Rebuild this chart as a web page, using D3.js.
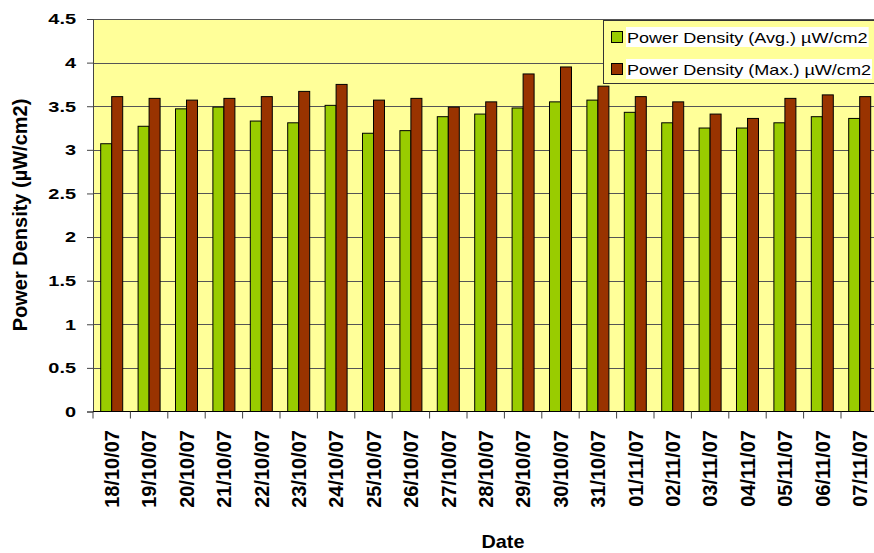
<!DOCTYPE html>
<html>
<head>
<meta charset="utf-8">
<script src="https://cdn.jsdelivr.net/npm/d3@7"></script>
<style>
  body { margin: 0; background: #fff; }
  svg { display: block; font-family: Arial, "Liberation Sans", sans-serif; }
</style>
</head>
<body>
<div id="chart"></div>
<script>
const dates = ["18/10/07", "19/10/07", "20/10/07", "21/10/07", "22/10/07", "23/10/07", "24/10/07",
  "25/10/07", "26/10/07", "27/10/07", "28/10/07", "29/10/07", "30/10/07", "31/10/07",
  "01/11/07", "02/11/07", "03/11/07", "04/11/07", "05/11/07", "06/11/07", "07/11/07"];
const avgValues = [3.07, 3.27, 3.47, 3.49, 3.33, 3.31, 3.51, 3.19, 3.22, 3.38, 3.41,
  3.48, 3.55, 3.57, 3.43, 3.31, 3.25, 3.25, 3.31, 3.38, 3.36];
const maxValues = [3.61, 3.59, 3.57, 3.59, 3.61, 3.67, 3.75, 3.57, 3.59, 3.49, 3.55,
  3.87, 3.95, 3.73, 3.61, 3.55, 3.41, 3.36, 3.59, 3.63, 3.61];
const seriesNames = ["Power Density (Avg.) µW/cm2", "Power Density (Max.) µW/cm2"];
const yTicks = [0, 0.5, 1, 1.5, 2, 2.5, 3, 3.5, 4, 4.5];

const width = 874, height = 553;
const plotLeft = 93, plotTop = 19, plotBottom = 411.5;
const step = 37.4;
const plotRight = plotLeft + step * dates.length;
const colors = ["#99CC00", "#993300"];

const svg = d3.select("#chart").append("svg")
  .attr("width", width).attr("height", height);

const x = d3.scaleBand().domain(dates).range([plotLeft, plotRight]).padding(0);
const x1 = d3.scaleBand().domain([0, 1]).range([0, x.bandwidth()]).paddingInner(0).paddingOuter(0.7);
const y = d3.scaleLinear().domain([0, 4.5]).range([plotBottom, plotTop]);

// plot area
svg.append("rect").attr("x", plotLeft).attr("y", plotTop)
  .attr("width", plotRight - plotLeft).attr("height", plotBottom - plotTop)
  .attr("fill", "#FFFF99");

// gridlines
svg.append("g").selectAll("line").data(yTicks.filter(d => d > 0)).join("line")
  .attr("x1", plotLeft).attr("x2", plotRight)
  .attr("y1", d => Math.round(y(d)) + 0.5).attr("y2", d => Math.round(y(d)) + 0.5)
  .attr("stroke", "#555").attr("stroke-width", 1);

// bars
const rows = dates.map((d, i) => ({date: d, vals: [avgValues[i], maxValues[i]]}));
const groups = svg.append("g").selectAll("g").data(rows).join("g")
  .attr("transform", d => `translate(${x(d.date)},0)`);
groups.selectAll("rect").data(d => d.vals.map((v, k) => ({k, v}))).join("rect")
  .attr("x", d => x1(d.k))
  .attr("y", d => y(d.v))
  .attr("width", x1.bandwidth())
  .attr("height", d => plotBottom - y(d.v))
  .attr("fill", d => colors[d.k])
  .attr("stroke", "#000").attr("stroke-width", 1);

// y axis
const yAxis = svg.append("g").attr("transform", `translate(${plotLeft},0)`)
  .call(d3.axisLeft(y).tickValues(yTicks).tickSize(6).tickFormat(d3.format("")));
yAxis.select(".domain").attr("stroke", "#444");
yAxis.selectAll(".tick line").attr("stroke", "#444");
yAxis.selectAll("text")
  .attr("x", -17 / 1.33)
  .attr("transform", "scale(1.33,1)")
  .attr("font-size", 15).attr("font-weight", "bold").attr("fill", "#000")
  .attr("font-family", "Arial, 'Liberation Sans', sans-serif");

// x axis
svg.append("line").attr("x1", plotLeft).attr("x2", width).attr("y1", plotBottom).attr("y2", plotBottom)
  .attr("stroke", "#000");
svg.append("g").selectAll("line").data(d3.range(dates.length + 1)).join("line")
  .attr("x1", i => plotLeft + i * x.step()).attr("x2", i => plotLeft + i * x.step())
  .attr("y1", plotBottom).attr("y2", plotBottom + 7)
  .attr("stroke", "#444");
svg.append("g").selectAll("text").data(dates).join("text")
  .attr("transform", d => `translate(${x(d) + x.bandwidth() / 2},430) rotate(-90)`)
  .attr("text-anchor", "end").attr("dy", "0.36em")
  .attr("font-size", 20).attr("font-weight", "bold")
  .text(d => d);

// axis titles
svg.append("text")
  .attr("transform", "translate(503,548) scale(1.1,1)")
  .attr("text-anchor", "middle")
  .attr("font-size", 18).attr("font-weight", "bold")
  .text("Date");
svg.append("text")
  .attr("transform", "translate(20,215) rotate(-90)")
  .attr("text-anchor", "middle").attr("dy", "0.36em")
  .attr("font-size", 20).attr("font-weight", "bold")
  .text("Power Density (µW/cm2)");

// legend
const legend = svg.append("g");
legend.append("rect").attr("x", 603.5).attr("y", 20.5)
  .attr("width", 300).attr("height", 63)
  .attr("fill", "#FFFF99").attr("stroke", "#333");
const items = legend.selectAll("g").data(seriesNames).join("g")
  .attr("transform", (d, i) => `translate(0,${i * 32})`);
items.append("rect").attr("class", "bg");
items.append("text")
  .attr("transform", "translate(627,42.5) scale(1.29,1)")
  .attr("font-size", 14)
  .text(d => d);
items.each(function() {
  const g = d3.select(this);
  const t = g.select("text").node().getBBox();
  g.select("rect.bg").attr("x", 626).attr("y", 27)
    .attr("width", t.width * 1.29 + 2).attr("height", 20).attr("fill", "#fff");
});
items.append("rect")
  .attr("x", 611.5).attr("y", 31.5).attr("width", 11).attr("height", 11)
  .attr("fill", (d, i) => colors[i]).attr("stroke", "#000");
</script>
</body>
</html>
